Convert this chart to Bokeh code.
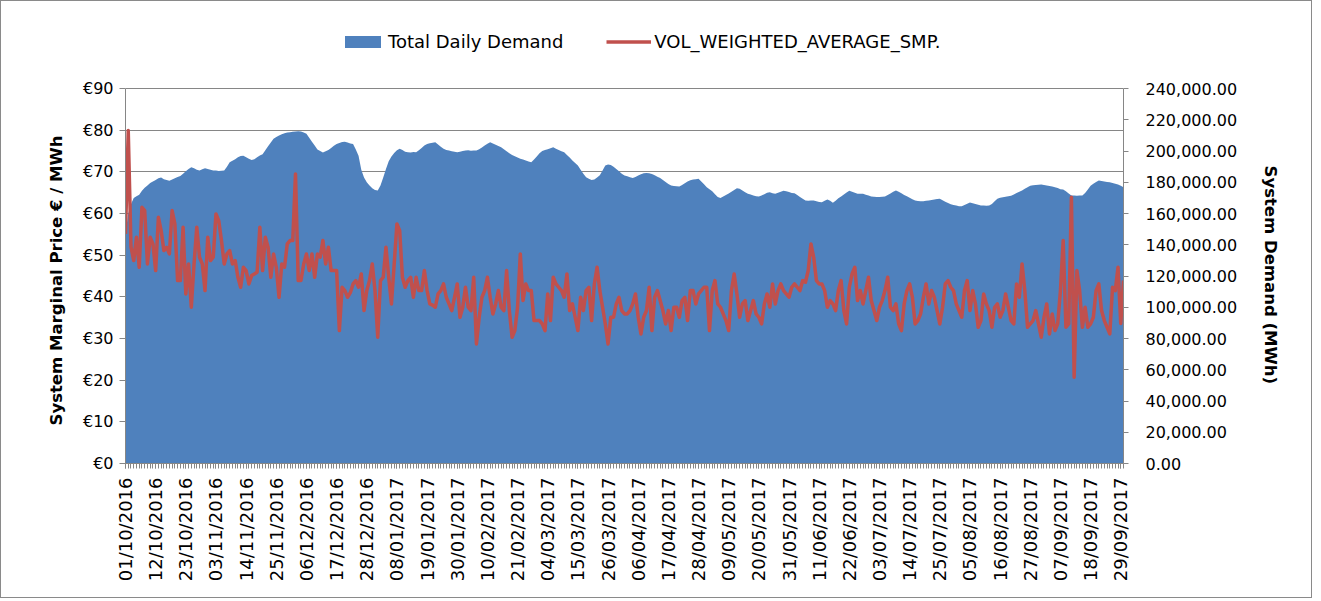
import math
import pandas as pd
from bokeh.plotting import figure
from bokeh.models import (Range1d, LinearAxis, FixedTicker, NumeralTickFormatter,
                          PrintfTickFormatter, Legend, LegendItem, ColumnDataSource, Title)
from bokeh.embed import file_html
from bokeh.resources import INLINE

# ---------------- data ----------------
day_labels = [d.strftime("%d/%m/%Y") for d in pd.date_range("2016-10-01", "2017-09-30", freq="D")]

demand_mwh = [
    147000, 160000, 166000, 170000, 171000, 172000, 174500, 176500, 178000, 179500,
    180500, 181500, 182500, 183000, 182000, 181500, 181000, 181800, 182500, 183300,
    184000, 185500, 187000, 188500, 189600, 189000, 188000, 187500, 188300, 189000,
    188500, 188000, 187500, 187500, 187200, 187300, 187500, 190000, 192800, 193800,
    194800, 196000, 196800, 197000, 196000, 195000, 194200, 194800, 196000, 197200,
    198000, 200500, 203000, 205500, 207800, 209000, 210000, 210800, 211300, 211800,
    212000, 212300, 212500, 212700, 212500, 211800, 211000, 208500, 206000, 203500,
    201000, 200000, 199000, 199800, 200600, 202000, 203300, 204500, 205200, 205700,
    206000, 205500, 204800, 204500, 201000, 197000, 188000, 183000, 180000, 178000,
    176200, 175000, 174700, 178000, 183000, 188500, 193500, 196500, 198800, 200500,
    201400, 200600, 199500, 199200, 199000, 199300, 199200, 200500, 202000, 203500,
    204500, 205000, 205300, 205600, 204200, 202800, 201500, 200700, 200300, 199800,
    199500, 199200, 199600, 200000, 200300, 200500, 200200, 200400, 200300, 201200,
    202300, 203500, 204700, 205600, 204800, 204000, 203200, 202400, 201200, 199800,
    198500, 197500, 196600, 195800, 195000, 194500, 194000, 193300, 192800, 194500,
    196500, 198500, 200000, 200600, 201200, 201800, 202400, 201500, 200700, 199900,
    199200, 197500, 195800, 194000, 192300, 190700, 188000, 185500, 183200, 182300,
    181500, 181800, 183000, 184500, 187500, 190700, 191300, 191000, 190000, 188500,
    187000, 185500, 184300, 183800, 183200, 182800, 183400, 184300, 185200, 185800,
    186000, 185800, 185300, 184500, 183600, 182800, 181500, 180200, 178900, 177900,
    177600, 177400, 177300, 178300, 179400, 180500, 181300, 181700, 182000, 182200,
    180500, 178700, 176800, 175500, 174200, 172400, 170600, 170000, 170900, 171800,
    172800, 173900, 175000, 176100, 175800, 174700, 173600, 172600, 172100, 171500,
    171100, 170900, 171600, 172400, 173300, 173600, 173000, 172700, 173300, 174000,
    174600, 174300, 173700, 173200, 173000, 171900, 170600, 169400, 168300, 168200,
    168300, 168300, 167800, 167400, 167200, 168100, 169000, 168200, 166900, 168100,
    169800, 170900, 172100, 173500, 174600, 174000, 173300, 172700, 172600, 172600,
    172000, 171500, 170900, 170700, 170500, 170600, 170800, 170900, 171800, 172800,
    173900, 174700, 173900, 172900, 171900, 171000, 170100, 169100, 168300, 168000,
    167900, 167800, 168100, 168400, 168700, 169000, 169300, 169400, 168500, 167600,
    166800, 166000, 165500, 165100, 164600, 164700, 165500, 166300, 167100, 166600,
    166100, 165600, 165200, 165100, 165000, 165100, 166100, 167800, 169400, 170100,
    170400, 170700, 171000, 171400, 172200, 173100, 173900, 174700, 175800, 176800,
    177800, 178100, 178300, 178400, 178500, 178200, 177900, 177600, 177300, 176800,
    176300, 175600, 175300, 174300, 172800, 171600, 171500, 171400, 171500, 171500,
    173200, 175300, 177800, 179000, 180200, 181100, 180800, 180500, 180200, 180000,
    179600, 179100, 178500, 177700, 176800,
]

smp_eur = [
    55.1, 79.9, 52.0, 48.7, 54.3, 47.1, 61.5, 60.7, 47.9, 54.3,
    52.7, 46.3, 59.1, 55.9, 51.1, 51.9, 50.3, 60.7, 57.5, 43.9,
    43.9, 56.7, 40.7, 47.9, 37.5, 47.9, 56.7, 49.5, 47.9, 41.5,
    54.3, 48.7, 49.5, 59.9, 58.3, 53.5, 47.9, 50.3, 51.1, 47.9,
    48.7, 44.7, 42.3, 47.1, 46.3, 43.1, 45.1, 45.5, 45.9, 56.7,
    46.3, 54.3, 51.9, 44.7, 50.3, 47.1, 39.9, 47.9, 47.1, 52.7,
    53.5, 53.5, 69.5, 43.9, 43.9, 47.9, 50.3, 46.3, 50.3, 44.7,
    50.3, 49.5, 53.5, 47.9, 51.9, 46.3, 46.3, 46.3, 31.9, 42.3,
    41.5, 39.9, 41.0, 43.1, 43.9, 42.3, 45.5, 36.7, 41.5, 43.9,
    47.9, 41.5, 30.3, 43.9, 44.7, 51.9, 44.7, 38.3, 47.9, 57.5,
    55.9, 44.7, 42.3, 43.9, 44.7, 39.9, 44.7, 41.5, 41.5, 46.3,
    41.5, 38.3, 38.0, 37.5, 40.7, 41.5, 43.1, 39.9, 38.3, 36.7,
    39.9, 43.1, 35.1, 37.5, 42.3, 37.5, 36.7, 44.7, 28.7, 35.1,
    39.9, 41.5, 44.7, 39.9, 35.9, 38.3, 41.5, 37.5, 36.7, 46.3,
    36.7, 30.3, 31.9, 37.5, 50.3, 39.1, 43.1, 41.5, 41.5, 34.3,
    34.3, 34.3, 33.5, 31.9, 40.7, 34.3, 44.7, 43.1, 42.3, 41.5,
    39.9, 45.5, 36.7, 38.3, 35.1, 31.9, 39.9, 36.7, 41.5, 42.3,
    34.3, 43.1, 47.1, 41.5, 37.5, 33.5, 28.7, 35.1, 35.1, 38.3,
    39.9, 36.7, 35.9, 35.9, 36.7, 38.3, 40.7, 35.1, 31.1, 35.1,
    36.7, 42.3, 31.9, 39.9, 41.5, 39.1, 36.7, 33.5, 36.7, 31.9,
    37.5, 37.5, 35.1, 39.1, 39.9, 34.3, 41.5, 41.5, 38.3, 40.7,
    41.5, 42.3, 42.3, 31.9, 41.5, 43.9, 38.3, 37.5, 35.9, 34.3,
    31.9, 41.5, 45.5, 40.7, 35.1, 38.3, 39.1, 34.3, 36.7, 39.1,
    35.9, 35.1, 33.5, 38.3, 40.7, 37.5, 43.1, 38.3, 41.5, 43.1,
    41.5, 40.7, 39.9, 42.3, 43.1, 42.3, 41.5, 43.9, 43.5, 46.3,
    52.7, 49.5, 43.9, 43.1, 43.1, 41.5, 37.5, 39.1, 38.3, 36.7,
    41.5, 43.9, 36.7, 33.5, 42.3, 45.5, 47.1, 39.1, 41.5, 38.3,
    41.5, 44.7, 39.1, 36.7, 34.3, 37.5, 39.1, 41.5, 44.7, 37.5,
    36.7, 38.3, 33.5, 31.9, 38.3, 41.5, 43.1, 39.9, 33.5, 34.3,
    35.9, 39.9, 43.1, 38.3, 41.5, 39.9, 36.7, 33.5, 37.5, 43.1,
    43.9, 42.3, 41.5, 38.3, 36.7, 35.1, 41.5, 43.9, 36.7, 41.5,
    38.3, 32.7, 34.3, 40.7, 38.3, 36.7, 32.7, 37.5, 38.3, 35.1,
    36.7, 40.7, 37.5, 34.3, 33.5, 43.1, 39.9, 47.9, 41.5, 32.7,
    33.5, 34.3, 36.7, 33.5, 30.3, 35.1, 38.3, 31.1, 35.9, 31.9,
    33.5, 41.5, 53.5, 32.7, 33.5, 63.9, 20.7, 46.3, 41.5, 32.7,
    37.5, 32.7, 33.5, 35.1, 41.5, 43.1, 36.7, 34.3, 32.7, 31.1,
    42.3, 41.5, 47.1, 33.6, 43.9,
]

price_ticks = [0, 10, 20, 30, 40, 50, 60, 70, 80, 90]
demand_ticks = [0, 20000, 40000, 60000, 80000, 100000, 120000,
                140000, 160000, 180000, 200000, 220000, 240000]
label_step = 11

# ---------------- layout constants (pixels) ----------------
FONT = "DejaVu Sans"
AX = "#868686"
FRAME_TOP = 24          # frame extends above the €90 line to host the legend
PLOT_H = 375            # pixel height of the 0..90 axis span
EXTRA = 63              # pixels of frame above the €90 line
scale_ext = (PLOT_H + EXTRA) / PLOT_H

n = len(day_labels)
xs = list(range(n))
src = ColumnDataSource(dict(x=xs, demand=demand_mwh, smp=smp_eur))

p = figure(width=1312, height=598, output_backend="svg", toolbar_location=None,
           x_range=Range1d(0, n - 1),
           y_range=Range1d(price_ticks[0], price_ticks[-1] * scale_ext),
           min_border_left=124, min_border_top=FRAME_TOP, min_border_right=190,
           min_border_bottom=136, outline_line_color=None,
           background_fill_color="white", border_fill_color="white")
p.extra_y_ranges = {"demand": Range1d(demand_ticks[0], demand_ticks[-1] * scale_ext)}

area = p.varea(x="x", y1=0, y2="demand", source=src, y_range_name="demand",
               fill_color="#4F81BD")
line = p.line(x="x", y="smp", source=src, line_color="#C0504D", line_width=3.5,
              line_join="round")

# grid
p.xgrid.visible = False
p.ygrid.ticker = FixedTicker(ticks=price_ticks)
p.ygrid.grid_line_color = AX
p.ygrid.grid_line_width = 1

# bottom axis
xa = p.xaxis[0]
xa.ticker = FixedTicker(ticks=xs[::label_step], minor_ticks=xs)
xa.major_label_overrides = {i: day_labels[i] for i in xs[::label_step]}
xa.major_label_orientation = math.pi / 2
xa.major_label_text_font = FONT
xa.major_label_text_font_size = "18px"
xa.major_label_text_color = "#000000"
xa.major_label_standoff = 9
xa.axis_line_color = AX
xa.major_tick_line_color = AX
xa.minor_tick_line_color = AX
xa.major_tick_out = 5
xa.major_tick_in = 0
xa.minor_tick_out = 5
xa.minor_tick_in = 0

# left axis
ya = p.yaxis[0]
ya.ticker = FixedTicker(ticks=price_ticks)
ya.bounds = (price_ticks[0], price_ticks[-1])
ya.formatter = PrintfTickFormatter(format="€%d")
ya.major_label_text_font = FONT
ya.major_label_text_font_size = "16px"
ya.major_label_text_color = "#000000"
ya.major_label_standoff = 6
ya.axis_line_color = AX
ya.major_tick_line_color = AX
ya.major_tick_out = 6
ya.major_tick_in = 0
ya.minor_tick_line_color = None

# right axis
ra = LinearAxis(y_range_name="demand", ticker=FixedTicker(ticks=demand_ticks),
                formatter=NumeralTickFormatter(format="0,0.00"),
                bounds=(demand_ticks[0], demand_ticks[-1]))
ra.major_label_text_font = FONT
ra.major_label_text_font_size = "16px"
ra.major_label_text_color = "#000000"
ra.major_label_standoff = 17
ra.axis_line_color = AX
ra.major_tick_line_color = AX
ra.major_tick_out = 5
ra.major_tick_in = 0
ra.minor_tick_line_color = None
p.add_layout(ra, "right")

# axis titles (as side titles so they can be positioned along the 0..90 span)
lt = Title(text="System Marginal  Price € / MWh", align="left", offset=38,
           standoff=28, text_font=FONT, text_font_size="16.5px",
           text_font_style="bold", text_color="#000000")
p.add_layout(lt, "left")
rt = Title(text="System Demand (MWh)", align="left", offset=140,
           standoff=40, text_font=FONT, text_font_size="16.5px",
           text_font_style="bold", text_color="#000000")
p.add_layout(rt, "right")

# legend
legend = Legend(items=[LegendItem(label="Total Daily Demand", renderers=[area]),
                       LegendItem(label="VOL_WEIGHTED_AVERAGE_SMP.", renderers=[line])],
                orientation="horizontal", location=(215, 411),
                border_line_color=None, background_fill_alpha=0,
                padding=0, margin=0, spacing=43, glyph_width=45, glyph_height=15,
                label_standoff=3, label_text_font=FONT, label_text_font_size="18px",
                label_text_color="#000000")
p.add_layout(legend)

p.styles = {"border": "1px solid #8a8a8a"}

open("out.html", "w").write(file_html(p, INLINE))
